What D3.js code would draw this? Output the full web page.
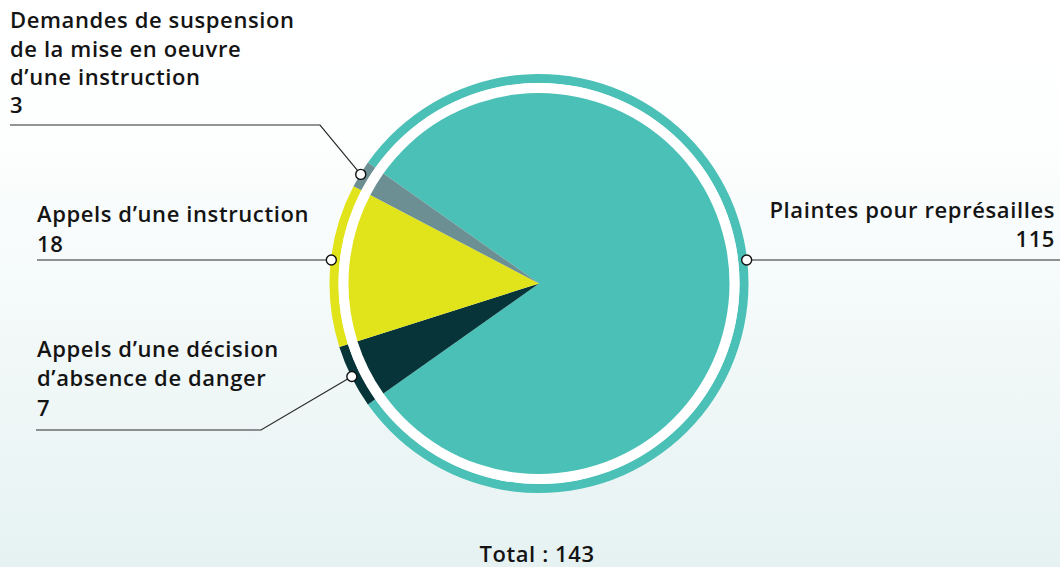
<!DOCTYPE html>
<html>
<head>
<meta charset="utf-8">
<script src="https://cdn.jsdelivr.net/npm/d3@7"></script>
<style>
  html, body { margin: 0; padding: 0; background: #fff; }
  svg { display: block; }
  text { font-family: "Open Sans", "Lato", sans-serif; font-weight: 600; fill: #141414; letter-spacing: 0.6px; }
</style>
</head>
<body>
<svg id="chart" width="1060" height="567"></svg>
<script>
// Categories, values and colours of the pie
const categories = [
  "Plaintes pour représailles",
  "Appels d’une décision d’absence de danger",
  "Appels d’une instruction",
  "Demandes de suspension de la mise en oeuvre d’une instruction"
];
const values = [115, 7, 18, 3];
const colors = ["#4bc0b6", "#073439", "#e1e41a", "#6b8f92"];

// Label lines as printed next to each slice
const labelLines = [
  ["Plaintes pour représailles"],
  ["Appels d’une décision", "d’absence de danger"],
  ["Appels d’une instruction"],
  ["Demandes de suspension", "de la mise en oeuvre", "d’une instruction"]
];
const totalLabel = "Total : " + d3.sum(values);

const W = 1060, H = 567;
const cx = 539, cy = 283.5;
const rPie = 190.5, rGap = 200.5, rRing = 209.5;
const fontSize = "22px";

const svg = d3.select("#chart");

// soft vertical background wash
const defs = svg.append("defs");
const grad = defs.append("linearGradient").attr("id", "bg").attr("x1", 0).attr("y1", 0).attr("x2", 0).attr("y2", 1);
grad.append("stop").attr("offset", "0").attr("stop-color", "#ffffff");
grad.append("stop").attr("offset", "0.25").attr("stop-color", "#fdfefe");
grad.append("stop").attr("offset", "1").attr("stop-color", "#e6f2f2");
svg.append("rect").attr("width", W).attr("height", H).attr("fill", "url(#bg)");

// the large slice is centred on the right side, the small ones gather on the left
const total = d3.sum(values);
const a0 = Math.PI / 2 - Math.PI * values[0] / total;
const pie = d3.pie().sort(null).startAngle(a0).endAngle(a0 + 2 * Math.PI);
const arcs = pie(values);

const g = svg.append("g").attr("transform", `translate(${cx},${cy})`);

// outer ring, white separator, then the pie itself
const ringArc = d3.arc().innerRadius(rGap).outerRadius(rRing);
g.selectAll("path.ring").data(arcs).join("path")
  .attr("class", "ring")
  .attr("d", ringArc)
  .attr("fill", (d, i) => colors[i]);

g.append("circle").attr("r", rGap).attr("fill", "#ffffff");

const pieArc = d3.arc().innerRadius(0).outerRadius(rPie);
g.selectAll("path.slice").data(arcs).join("path")
  .attr("class", "slice")
  .attr("d", pieArc)
  .attr("fill", (d, i) => colors[i]);

// leader layout: horizontal leaders (lineY) or bent leaders (elbow) to a label block
const layout = [
  { lineY: 260, lineEnd: W, anchor: "end", textX: 1055, firstBaseline: 218, numberBaseline: 247 },
  { elbow: [261, 430], lineEnd: 36, anchor: "start", textX: 37, firstBaseline: 357, numberBaseline: 416 },
  { lineY: 260, lineEnd: 37, anchor: "start", textX: 37, firstBaseline: 222, numberBaseline: 252 },
  { elbow: [320, 125], lineEnd: 10, anchor: "start", textX: 10, firstBaseline: 28, numberBaseline: 113 }
];

const rMark = rRing - 0.5;
arcs.forEach((d, i) => {
  const L = layout[i];
  let mx, my;
  const mid = (d.startAngle + d.endAngle) / 2;
  if (L.lineY !== undefined) {
    const dy = L.lineY - cy;
    const dx = Math.sqrt(rMark * rMark - dy * dy);
    const side = Math.sin(mid) >= 0 ? 1 : -1;
    mx = cx + side * dx; my = L.lineY;
  } else {
    mx = cx + rMark * Math.sin(mid);
    my = cy - rMark * Math.cos(mid);
  }
  const pts = [[mx, my]];
  if (L.elbow) {
    pts.push(L.elbow);
    pts.push([L.lineEnd, L.elbow[1]]);
  } else {
    pts.push([L.lineEnd, my]);
  }
  svg.append("path")
    .attr("d", d3.line()(pts))
    .attr("fill", "none")
    .attr("stroke", "#2a2a2a")
    .attr("stroke-width", 1.2);
  svg.append("circle")
    .attr("cx", mx).attr("cy", my).attr("r", 5)
    .attr("fill", "#ffffff").attr("stroke", "#111").attr("stroke-width", 1.4);

  const lines = labelLines[i];
  const step = lines.length > 1 ? 28.5 : 0;
  lines.forEach((t, k) => {
    svg.append("text")
      .attr("x", L.textX).attr("y", L.firstBaseline + k * step)
      .attr("text-anchor", L.anchor)
      .style("font-size", fontSize)
      .text(t);
  });
  svg.append("text")
    .attr("x", L.textX).attr("y", L.numberBaseline)
    .attr("text-anchor", L.anchor)
    .style("font-size", fontSize)
    .text(values[i]);
});

svg.append("text")
  .attr("x", 537).attr("y", 562)
  .attr("text-anchor", "middle")
  .style("font-size", fontSize)
  .text(totalLabel);
</script>
</body>
</html>
